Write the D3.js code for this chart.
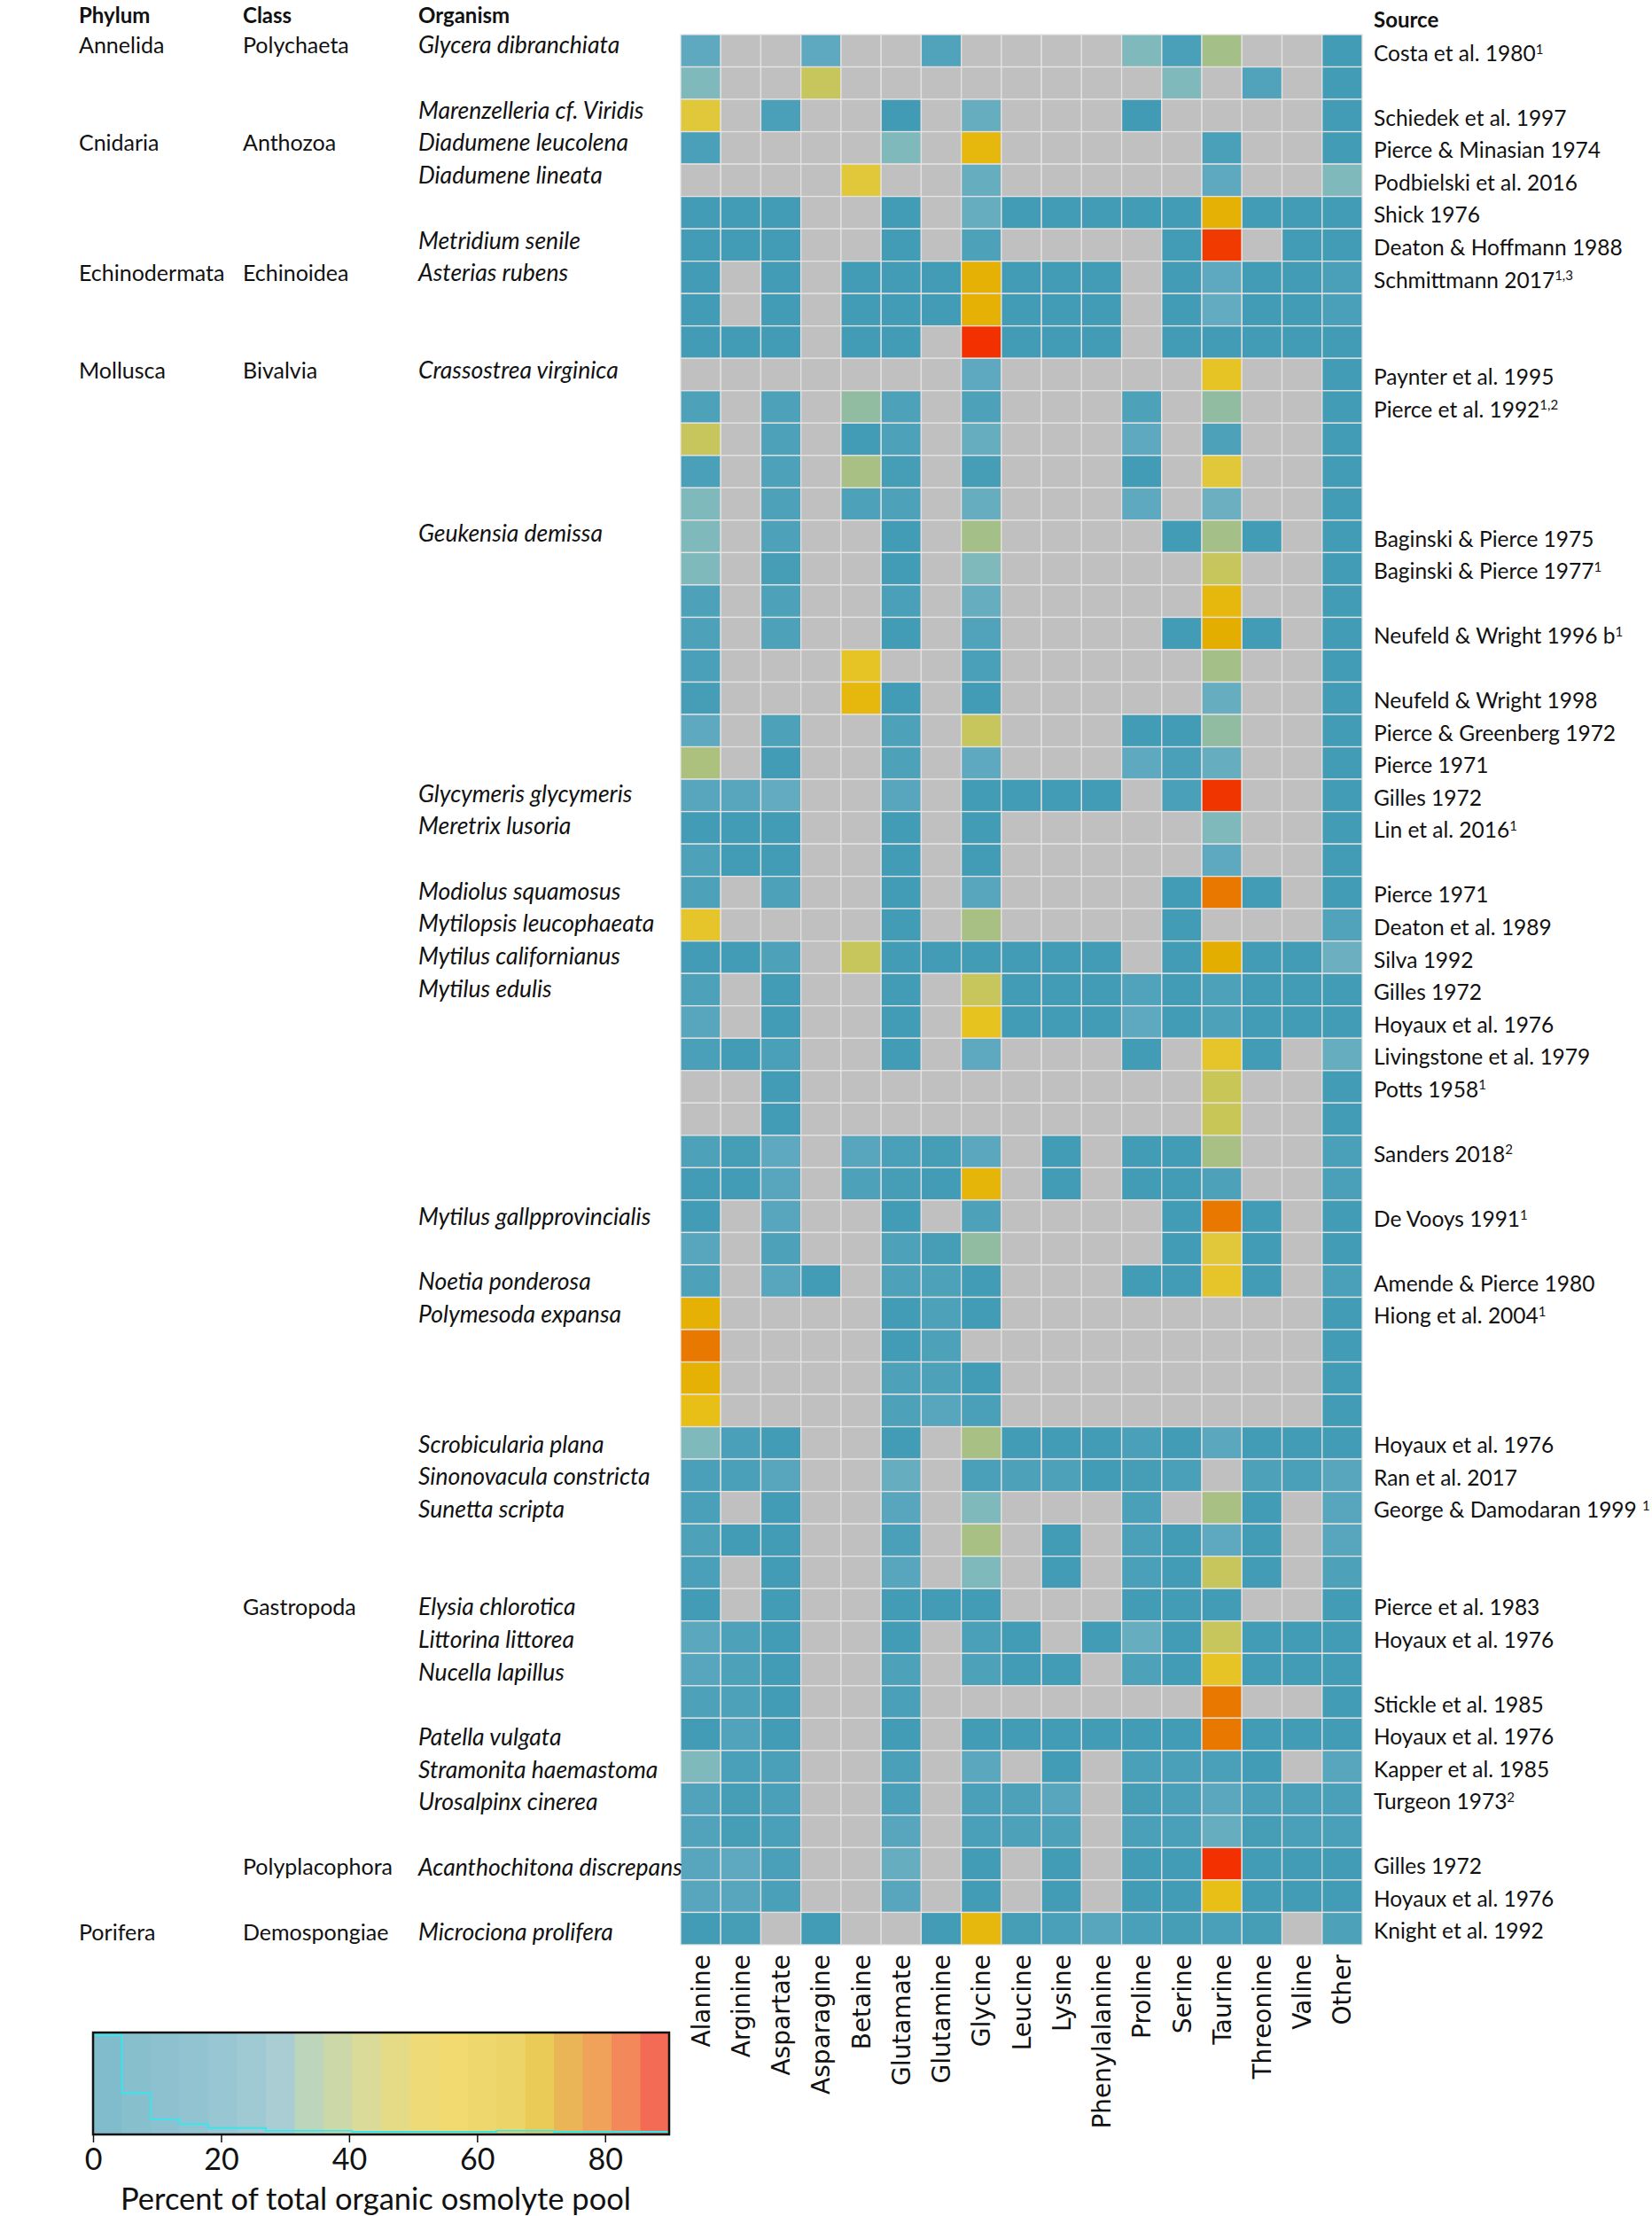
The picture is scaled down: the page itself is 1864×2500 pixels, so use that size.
<!DOCTYPE html>
<html><head><meta charset="utf-8">
<script src="https://cdn.jsdelivr.net/npm/d3@7"></script>
<style>body{margin:0;background:#fff}</style>
</head><body>
<script>
const _ = null;
const columns = ["Alanine","Arginine","Aspartate","Asparagine","Betaine","Glutamate","Glutamine","Glycine","Leucine","Lysine","Phenylalanine","Proline","Serine","Taurine","Threonine","Valine","Other"];

// percent of total organic osmolyte pool, one row per study row (null = not measured)
const values = [
[14,_,_,14,_,_,10,_,_,_,_,22,8,33,_,_,5],
[22,_,_,42,_,_,_,_,_,_,_,_,22,_,10,_,5],
[50,_,8,_,_,4,_,16,_,_,_,4,_,_,_,_,5],
[8,_,_,_,_,22,_,60,_,_,_,_,_,8,_,_,5],
[_,_,_,_,50,_,_,16,_,_,_,_,_,14,_,_,22],
[5,5,5,_,_,5,_,16,5,5,5,5,5,62,5,5,5],
[5,5,5,_,_,5,_,9,_,_,_,_,5,88,_,5,5],
[5,_,5,_,5,5,5,62,5,5,5,_,5,14,5,5,8],
[5,_,5,_,5,5,5,62,5,5,5,_,5,15,5,5,8],
[5,5,5,_,5,5,_,90,5,5,5,_,5,5,5,5,5],
[_,_,_,_,_,_,_,14,_,_,_,_,_,55,_,_,5],
[9,_,9,_,28,9,_,9,_,_,_,9,_,28,_,_,5],
[42,_,9,_,5,9,_,16,_,_,_,14,_,9,_,_,5],
[8,_,9,_,34,6,_,6,_,_,_,5,_,50,_,_,5],
[22,_,9,_,9,9,_,16,_,_,_,14,_,17,_,_,5],
[22,_,9,_,_,5,_,33,_,_,_,_,5,33,5,_,5],
[22,_,6,_,_,5,_,22,_,_,_,_,_,42,_,_,5],
[9,_,9,_,_,8,_,16,_,_,_,_,_,60,_,_,5],
[9,_,9,_,_,5,_,10,_,_,_,_,5,63,5,_,5],
[8,_,_,_,55,_,_,8,_,_,_,_,_,33,_,_,5],
[6,_,_,_,60,5,_,5,_,_,_,_,_,16,_,_,5],
[14,_,9,_,_,9,_,42,_,_,_,5,5,28,_,_,5],
[35,_,5,_,_,9,_,14,_,_,_,14,8,16,_,_,5],
[12,12,15,_,_,12,_,5,5,5,5,_,8,89,_,_,5],
[5,5,5,_,_,5,_,5,_,_,_,_,_,22,_,_,5],
[9,5,5,_,_,5,_,5,_,_,_,_,_,14,_,_,5],
[9,_,9,_,_,5,_,12,_,_,_,_,5,75,5,_,5],
[54,_,_,_,_,5,_,34,_,_,_,_,5,_,_,_,10],
[5,5,9,_,42,5,5,5,5,5,5,_,5,63,5,5,17],
[9,_,5,_,_,5,_,42,5,5,5,10,5,9,5,5,5],
[12,_,5,_,_,5,_,56,5,5,5,14,5,9,5,5,5],
[8,5,8,_,_,5,_,14,_,_,_,5,_,54,5,_,16],
[_,_,5,_,_,_,_,_,_,_,_,_,_,43,_,_,5],
[_,_,5,_,_,_,_,_,_,_,_,_,_,43,_,_,5],
[9,6,14,_,12,8,6,13,_,5,_,5,5,34,_,_,8],
[5,5,12,_,9,6,5,61,_,5,_,5,5,9,_,_,8],
[5,_,12,_,_,5,_,9,_,_,_,_,5,75,5,_,5],
[12,_,9,_,_,9,6,28,_,_,_,_,5,50,5,_,5],
[9,_,12,5,_,9,9,5,_,_,_,5,5,54,5,_,8],
[62,_,_,_,_,5,9,5,_,_,_,_,_,_,_,_,5],
[75,_,_,_,_,5,9,_,_,_,_,_,_,_,_,_,5],
[62,_,_,_,_,9,9,5,_,_,_,_,_,_,_,_,5],
[58,_,_,_,_,9,12,8,_,_,_,_,_,_,_,_,5],
[22,8,5,_,_,5,_,34,5,5,5,8,5,13,5,5,5],
[8,8,12,_,_,16,_,8,9,9,5,6,8,_,9,8,12],
[8,_,5,_,_,12,_,22,_,_,_,8,_,34,5,_,12],
[9,5,5,_,_,8,_,34,_,5,_,8,5,14,5,_,12],
[8,_,5,_,_,12,_,22,_,5,_,8,5,42,5,_,9],
[5,_,5,_,_,5,5,5,_,_,_,5,5,5,_,_,5],
[13,9,5,_,_,5,_,8,5,_,5,16,5,42,5,5,5],
[12,9,5,_,_,9,_,9,5,5,_,9,5,55,5,5,5],
[9,9,5,_,_,8,_,_,_,_,_,_,_,75,_,_,5],
[5,10,5,_,_,5,_,5,5,5,5,5,5,75,5,5,5],
[22,8,8,_,_,8,_,13,_,5,_,8,8,8,5,_,12],
[10,6,8,_,_,8,_,8,9,12,_,6,8,13,8,8,8],
[10,6,8,_,_,12,_,8,9,9,_,8,8,16,6,8,8],
[12,14,8,_,_,16,_,5,_,5,_,5,5,90,5,5,5],
[12,12,8,_,_,12,_,5,_,5,_,5,5,58,5,5,5],
[5,6,_,5,_,_,5,60,6,8,12,8,6,8,6,_,9]
];

const phyla = [[0,"Annelida"],[3,"Cnidaria"],[7,"Echinodermata"],[10,"Mollusca"],[58,"Porifera"]];
const classes = [[0,"Polychaeta"],[3,"Anthozoa"],[7,"Echinoidea"],[10,"Bivalvia"],[48,"Gastropoda"],[56,"Polyplacophora"],[58,"Demospongiae"]];
const organisms = [[0,"Glycera dibranchiata"],[2,"Marenzelleria cf. Viridis"],[3,"Diadumene leucolena"],[4,"Diadumene lineata"],[6,"Metridium senile"],[7,"Asterias rubens"],[10,"Crassostrea virginica"],[15,"Geukensia demissa"],[23,"Glycymeris glycymeris"],[24,"Meretrix lusoria"],[26,"Modiolus squamosus"],[27,"Mytilopsis leucophaeata"],[28,"Mytilus californianus"],[29,"Mytilus edulis"],[36,"Mytilus gallpprovincialis"],[38,"Noetia ponderosa"],[39,"Polymesoda expansa"],[43,"Scrobicularia plana"],[44,"Sinonovacula constricta"],[45,"Sunetta scripta"],[48,"Elysia chlorotica"],[49,"Littorina littorea"],[50,"Nucella lapillus"],[52,"Patella vulgata"],[53,"Stramonita haemastoma"],[54,"Urosalpinx cinerea"],[56,"Acanthochitona discrepans"],[58,"Microciona prolifera"]];
const sources = [[0,"Costa et al. 1980","1"],[2,"Schiedek et al. 1997",""],[3,"Pierce & Minasian 1974",""],[4,"Podbielski et al. 2016",""],[5,"Shick 1976",""],[6,"Deaton & Hoffmann 1988",""],[7,"Schmittmann 2017","1,3"],[10,"Paynter et al. 1995",""],[11,"Pierce et al. 1992","1,2"],[15,"Baginski & Pierce 1975",""],[16,"Baginski & Pierce 1977","1"],[18,"Neufeld & Wright 1996 b","1"],[20,"Neufeld & Wright 1998",""],[21,"Pierce & Greenberg 1972",""],[22,"Pierce 1971",""],[23,"Gilles 1972",""],[24,"Lin et al. 2016","1"],[26,"Pierce 1971",""],[27,"Deaton et al. 1989",""],[28,"Silva 1992",""],[29,"Gilles 1972",""],[30,"Hoyaux et al. 1976",""],[31,"Livingstone et al. 1979",""],[32,"Potts 1958","1"],[34,"Sanders 2018","2"],[36,"De Vooys 1991","1"],[38,"Amende & Pierce 1980",""],[39,"Hiong et al. 2004","1"],[43,"Hoyaux et al. 1976",""],[44,"Ran et al. 2017",""],[45,"George & Damodaran 1999 ","1"],[48,"Pierce et al. 1983",""],[49,"Hoyaux et al. 1976",""],[51,"Stickle et al. 1985",""],[52,"Hoyaux et al. 1976",""],[53,"Kapper et al. 1985",""],[54,"Turgeon 1973","2"],[56,"Gilles 1972",""],[57,"Hoyaux et al. 1976",""],[58,"Knight et al. 1992",""]];
const colorbarTicks = [0,20,40,60,80];
// relative frequency outline drawn inside the colour bar (per 4.5 % bin)
const histCounts = [100,40,13,8,4,4,1,1,1,0,0,0,0,0,1,1,0,0,0,0];

// ---- styles ----
const cellDomain = [0,8,15,22,30,35,42,50,57,63,75,90];
const cellRange = ['#3795b1','#4aa0b8','#62abc1','#80b9bc','#96bd98','#adc17e','#c6c65c','#e0c83a','#e8c21c','#e4ae00','#e87800','#f23000'];
const barColors = ['#80bccb','#87bfcd','#8dc1cf','#92c3d0','#98c6d2','#9fc9d3','#a9cdd3','#bcd5bb','#ccd8a8','#dadb98','#e5da86','#eedb78','#f2da70','#eed86e','#ecd468','#ebcb58','#eab556','#f0a15a','#f3885a','#f46b55'];
const FONT = "Lato, 'Open Sans', sans-serif";

const W = 1864, H = 2500;
const svg = d3.select('body').append('svg').attr('width', W).attr('height', H);
svg.append('rect').attr('width', W).attr('height', H).attr('fill', '#fff');

const nRows = values.length;
const x = d3.scaleBand().domain(columns).range([768, 1537]);
const y = d3.scaleBand().domain(d3.range(nRows)).range([39, 2194]);
const color = d3.scaleLinear().domain(cellDomain).range(cellRange).clamp(true);

const cells = [];
values.forEach((row, i) => row.forEach((v, j) => cells.push({i, col: columns[j], v})));
svg.append('g').selectAll('rect').data(cells).join('rect')
  .attr('x', d => x(d.col)).attr('y', d => y(d.i))
  .attr('width', x.bandwidth()).attr('height', y.bandwidth())
  .attr('fill', d => d.v == null ? '#c0c0c0' : color(d.v))
  .attr('stroke', '#e6e2e2').attr('stroke-width', 1.3);

// left labels
const leftY = d3.scaleLinear().domain([0, nRows - 1]).range([51, 2180]);
const headers = [[89, 'Phylum'], [274, 'Class'], [472, 'Organism']];
svg.append('g').selectAll('text').data(headers).join('text')
  .attr('x', d => d[0]).attr('y', 26).text(d => d[1])
  .attr('font-family', FONT).attr('font-size', 24).attr('font-weight', 'bold').attr('fill', '#111');
svg.append('text').attr('x', 1550).attr('y', 31).text('Source')
  .attr('font-family', FONT).attr('font-size', 24).attr('font-weight', 'bold').attr('fill', '#111');

function leftCol(data, xpos, italic) {
  svg.append('g').selectAll('text').data(data).join('text')
    .attr('x', xpos).attr('y', d => leftY(d[0])).attr('dy', '0.35em')
    .attr('font-family', FONT).attr('font-size', italic ? 26.5 : 25)
    .attr('font-style', italic ? 'italic' : 'normal').attr('fill', '#111')
    .text(d => d[1]);
}
leftCol(phyla, 89, false);
leftCol(classes, 274, false);
leftCol(organisms, 472, true);

const src = svg.append('g').selectAll('text').data(sources).join('text')
  .attr('x', 1550).attr('y', d => y(d[0]) + y.bandwidth() / 2 + 3).attr('dy', '0.35em')
  .attr('font-family', FONT).attr('font-size', 24.5).attr('fill', '#111');
src.append('tspan').text(d => d[1]);
src.filter(d => d[2]).append('tspan').attr('dy', '-0.55em').attr('font-size', 15).text(d => d[2]);

// column labels
svg.append('g').selectAll('text').data(columns).join('text')
  .attr('transform', d => `translate(${x(d) + x.bandwidth() / 2},${2205}) rotate(-90)`)
  .attr('text-anchor', 'end').attr('dy', '0.36em')
  .attr('font-family', "'DejaVu Sans', sans-serif").attr('font-size', 28).attr('fill', '#111')
  .text(d => d);

// colour bar
const cb = d3.scaleLinear().domain([0, 90]).range([105, 755]);
const cbTop = 2293, cbBot = 2408;
const step = 90 / barColors.length;
svg.append('g').selectAll('rect').data(barColors).join('rect')
  .attr('x', (d, k) => cb(k * step)).attr('y', cbTop)
  .attr('width', cb(step) - cb(0) + 0.5).attr('height', cbBot - cbTop)
  .attr('fill', d => d);
const hy = d3.scaleLinear().domain([0, d3.max(histCounts)]).range([cbBot - 3, cbTop + 3]);
const histPts = histCounts.map((c, k) => [cb(k * step), hy(c)]).concat([[cb(90), hy(histCounts[histCounts.length - 1])]]);
svg.append('path').attr('d', d3.line().curve(d3.curveStepAfter)(histPts))
  .attr('fill', 'none').attr('stroke', '#33e8ee').attr('stroke-width', 1.8);
svg.append('rect').attr('x', cb(0)).attr('y', cbTop).attr('width', cb(90) - cb(0)).attr('height', cbBot - cbTop)
  .attr('fill', 'none').attr('stroke', '#111').attr('stroke-width', 2.5);
const ax = svg.append('g').attr('transform', `translate(0,${cbBot})`)
  .call(d3.axisBottom(cb).tickValues(colorbarTicks).tickSize(9).tickPadding(7));
ax.select('.domain').remove();
ax.selectAll('line').attr('stroke', '#111').attr('stroke-width', 1.5);
ax.selectAll('text').attr('font-family', FONT).attr('font-size', 34).attr('fill', '#111');
svg.append('text').attr('x', 424).attr('y', 2481).attr('dy', '0.35em').attr('text-anchor', 'middle')
  .attr('font-family', FONT).attr('font-size', 34.5).attr('fill', '#111')
  .text('Percent of total organic osmolyte pool');
</script>
</body></html>
